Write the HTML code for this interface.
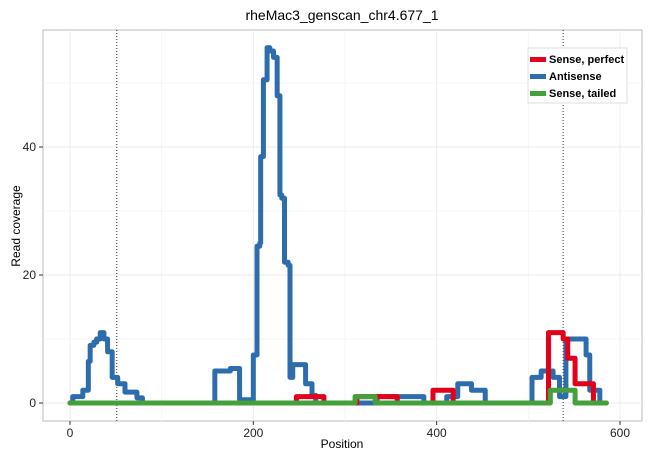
<!DOCTYPE html>
<html><head><meta charset="utf-8"><style>
body{margin:0;background:#fff;}
svg text{font-family:"Liberation Sans",Arial,sans-serif;}
</style></head><body>
<svg width="650" height="460" xmlns="http://www.w3.org/2000/svg">
<g id="grid"></g>
<g id="series"></g>
<g id="axes"></g>
<text x="342" y="20" text-anchor="middle" font-size="14">rheMac3_genscan_chr4.677_1</text>
<text x="342" y="448" text-anchor="middle" font-size="12">Position</text>
<text x="20" y="226" text-anchor="middle" font-size="12" transform="rotate(-90 20 226)">Read coverage</text>
<g>
<rect x="528" y="48" width="99" height="55" fill="#fff" stroke="#ddd"/>
<rect x="530" y="57" width="16" height="5" fill="#e3001b"/>
<text x="549" y="63" font-size="11" font-weight="bold">Sense, perfect</text>
<rect x="530" y="74" width="16" height="5" fill="#2e6dad"/>
<text x="549" y="80" font-size="11" font-weight="bold">Antisense</text>
<rect x="530" y="91" width="16" height="5" fill="#43a03b"/>
<text x="549" y="97" font-size="11" font-weight="bold">Sense, tailed</text>
</g>
</svg>
<script>
const xTicks=[0,200,400,600];
const yTicks=[0,20,40];
const markers=[51,538];
const antiPos=[0,3,14,20,22,26,29,33,37,41,46,52,60,73,79,158,175,185,200,204,207,208,211,215,218,222,226,229,231,234,238,240,243,254,257,264,268,335,386,411,423,438,453,504,514,527,534,541,563,567,578,585];
const antiVal=[0,1,2,6.5,9,9.5,10,11,10,8,4,3,1.7,0.8,0,5,5.4,0.5,7.5,24.5,25,38.5,50.5,55.5,55,54,48,32.5,32,22,21.5,4,6,6,3,1.2,0,1,0,1,3,2,0,4,5,4,1,10,7.5,2,0,0];
const perfPos=[0,247,277,313,357,396,418,522,538,543,551,567,571,585];
const perfVal=[0,1,0,1,0,2,0,11,10,7,3,3,0,0];
const tailPos=[0,311,333,524,551,585];
const tailVal=[0,1,0,2,0,0];
const L=43,R=642,T=30,B=421;
const sx=v=>70+v*(620-70)/600;
const sy=v=>403-v*6.4;
const NS="http://www.w3.org/2000/svg";
function mk(tag,attrs,parent){const e=document.createElementNS(NS,tag);for(const k in attrs)e.setAttribute(k,attrs[k]);parent.appendChild(e);return e;}
const grid=document.getElementById('grid'),axes=document.getElementById('axes'),ser=document.getElementById('series');
const bg=mk('rect',{x:L,y:T,width:R-L,height:B-T,fill:'#fff',stroke:'#bbb'},grid);


for(let i=0;i<xTicks.length;i++){
 const v=xTicks[i];
 const g=mk('line',{x1:sx(v),x2:sx(v),y1:T,y2:B,stroke:'#ebebeb'},grid);
 
 
 if(i<xTicks.length-1){const m=mk('line',{x1:sx(v+100),x2:sx(v+100),y1:T,y2:B,stroke:'#f5f5f5'},grid);
 
 }
 const t=mk('line',{x1:sx(v),x2:sx(v),y1:B,y2:B+4,stroke:'#333'},axes);
 
 
 const tx=mk('text',{x:sx(v),y:B+16,'text-anchor':'middle','font-size':12,fill:'#222'},axes);tx.textContent=v;
 
 
}
for(const v of yTicks){
 const g=mk('line',{x1:L,x2:R,y1:sy(v),y2:sy(v),stroke:'#ebebeb'},grid);
 
 
 const m=mk('line',{x1:L,x2:R,y1:sy(v+10),y2:sy(v+10),stroke:'#f5f5f5'},grid);
 
 
 const t=mk('line',{x1:L-4,x2:L,y1:sy(v),y2:sy(v),stroke:'#333'},axes);
 
 
 const tx=mk('text',{x:L-7,y:sy(v)+4,'text-anchor':'end','font-size':12,fill:'#222'},axes);tx.textContent=v;
 
 
}
for(const v of markers){
 const d=mk('line',{x1:sx(v),x2:sx(v),y1:T,y2:B,stroke:'#333','stroke-dasharray':'1,2'},grid);
 
 
}
function step(pos,val){let d='M'+sx(pos[0])+','+sy(val[0]);for(let i=1;i<pos.length;i++){d+=' H'+sx(pos[i])+' V'+sy(val[i]);}return d;}
const s=[[antiPos,antiVal,'#2e6dad','series-antisense'],[perfPos,perfVal,'#e3001b','series-sense-perfect'],[tailPos,tailVal,'#43a03b','series-sense-tailed']];
for(const [p,v,c,n] of s){
 const e=mk('path',{d:step(p,v),fill:'none',stroke:c,'stroke-width':5,'stroke-linejoin':'round','stroke-linecap':'round'},ser);
 
 
}
</script>
</body></html>
